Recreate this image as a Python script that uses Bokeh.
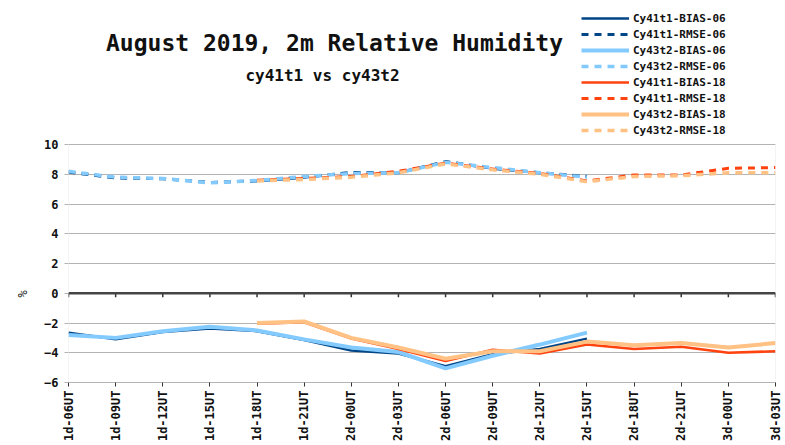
import math
from bokeh.plotting import figure
from bokeh.models import (Range1d, FixedTicker, Span, Label, Legend, LegendItem, Title,
                          BoxAnnotation)
from bokeh.embed import file_html
from bokeh.resources import INLINE

categories = ["1d-06UT", "1d-09UT", "1d-12UT", "1d-15UT", "1d-18UT", "1d-21UT",
              "2d-00UT", "2d-03UT", "2d-06UT", "2d-09UT", "2d-12UT", "2d-15UT",
              "2d-18UT", "2d-21UT", "3d-00UT", "3d-03UT"]
cats_06 = categories[0:12]
cats_18 = categories[4:16]

bias41_06 = [-2.65, -3.1, -2.6, -2.37, -2.55, -3.15, -3.85, -4.05, -4.9, -4.1, -3.75, -3.05]
rmse41_06 = [8.15, 7.75, 7.7, 7.45, 7.55, 7.8, 8.12, 8.1, 8.85, 8.4, 8.1, 7.85]
bias43_06 = [-2.8, -3.0, -2.55, -2.25, -2.5, -3.1, -3.65, -3.95, -5.05, -4.2, -3.45, -2.65]
rmse43_06 = [8.2, 7.8, 7.72, 7.42, 7.58, 7.85, 8.05, 8.1, 8.8, 8.45, 8.1, 7.8]
bias41_18 = [-2.05, -1.95, -3.05, -3.75, -4.55, -3.8, -4.05, -3.45, -3.75, -3.6, -4.0, -3.9]
rmse41_18 = [7.6, 7.72, 7.85, 8.2, 8.75, 8.35, 8.05, 7.55, 7.95, 7.95, 8.4, 8.45]
bias43_18 = [-2.0, -1.9, -3.0, -3.65, -4.4, -3.9, -3.9, -3.25, -3.5, -3.35, -3.65, -3.35]
rmse43_18 = [7.55, 7.65, 7.8, 8.1, 8.7, 8.3, 8.0, 7.5, 7.85, 7.9, 8.1, 8.1]

y_ticks = [-6, -4, -2, 0, 2, 4, 6, 8, 10]
Y_MIN, Y_MAX = -6, 10

FONT = "DejaVu Sans Mono"
DARK_BLUE = "#004586"
LIGHT_BLUE = "#83caff"
ORANGE = "#ff420e"
LIGHT_ORANGE = "#ffc184"
GRID = "#b3b3b3"

# layout: plot box spans canvas y 144..382; frame is extended upward to the
# canvas top so that the header (titles, legend) lives inside the frame
BOX_TOP_PX, BOX_BOTTOM_PX = 144, 382
ppu = (BOX_BOTTOM_PX - BOX_TOP_PX) / (Y_MAX - Y_MIN)
y_top = Y_MAX + BOX_TOP_PX / ppu

p = figure(width=785, height=445, output_backend="svg", toolbar_location=None,
           x_range=Range1d(0, len(categories) - 1), y_range=Range1d(Y_MIN, y_top),
           min_border_left=68, min_border_right=10, min_border_top=0,
           min_border_bottom=445 - BOX_BOTTOM_PX)
p.background_fill_color = "white"
p.border_fill_color = "white"
p.outline_line_color = None

p.xaxis.ticker = FixedTicker(ticks=list(range(len(categories))))
p.xaxis.major_label_overrides = {i: c for i, c in enumerate(categories)}
p.xaxis.major_label_orientation = math.pi / 2
p.xaxis.major_label_text_font = FONT
p.xaxis.major_label_text_font_style = "bold"
p.xaxis.major_label_text_font_size = "12px"
p.xaxis.major_label_text_color = "#111111"
p.xaxis.major_label_standoff = 4
p.xaxis.axis_line_color = GRID
p.xaxis.major_tick_line_color = "#333333"
p.xaxis.major_tick_out = 4
p.xaxis.major_tick_in = 0
p.xaxis.minor_tick_line_color = None

p.yaxis.ticker = FixedTicker(ticks=y_ticks)
p.yaxis.major_label_text_font = FONT
p.yaxis.major_label_text_font_style = "bold"
p.yaxis.major_label_text_font_size = "12px"
p.yaxis.major_label_text_color = "#111111"
p.yaxis.major_label_standoff = 6
p.yaxis.axis_line_color = None
p.yaxis.major_tick_line_color = GRID
p.yaxis.major_tick_out = 4
p.yaxis.major_tick_in = 0
p.yaxis.minor_tick_line_color = None

p.xgrid.grid_line_color = None
p.ygrid.grid_line_color = GRID
p.ygrid.grid_line_width = 1

# plot-area border
p.add_layout(BoxAnnotation(left=0, right=len(categories) - 1, bottom=Y_MIN, top=Y_MAX,
                           fill_alpha=0, line_color=GRID, line_width=1))

# zero line with ticks
p.add_layout(Span(location=0, dimension="width", line_color="#444444", line_width=2.5))
xs_all = list(range(len(categories)))
p.segment(x0=xs_all, y0=[0] * len(xs_all), x1=xs_all, y1=[-0.27] * len(xs_all),
          line_color="#333333", line_width=1.5)

x06 = [categories.index(c) for c in cats_06]
x18 = [categories.index(c) for c in cats_18]

series = [
    ("Cy41t1-BIAS-06", x06, bias41_06, DARK_BLUE, "solid", 2.5),
    ("Cy41t1-RMSE-06", x06, rmse41_06, DARK_BLUE, "7 6", 3),
    ("Cy43t2-BIAS-06", x06, bias43_06, LIGHT_BLUE, "solid", 4),
    ("Cy43t2-RMSE-06", x06, rmse43_06, LIGHT_BLUE, "7 6", 3.5),
    ("Cy41t1-BIAS-18", x18, bias41_18, ORANGE, "solid", 2.5),
    ("Cy41t1-RMSE-18", x18, rmse41_18, ORANGE, "7 6", 3),
    ("Cy43t2-BIAS-18", x18, bias43_18, LIGHT_ORANGE, "solid", 4),
    ("Cy43t2-RMSE-18", x18, rmse43_18, LIGHT_ORANGE, "7 6", 3.5),
]

items = []
for name, xs, ys, color, dash, w in series:
    r = p.line(xs, ys, line_color=color, line_dash=dash, line_width=w)
    items.append(LegendItem(label=name, renderers=[r]))

legend = Legend(items=items, location=(513, 244), orientation="vertical",
                glyph_width=48, glyph_height=16, label_height=16, spacing=0,
                padding=0, margin=0, label_standoff=4,
                label_text_font=FONT, label_text_font_size="11px",
                label_text_font_style="bold", label_text_color="#111111",
                border_line_color=None, background_fill_alpha=0)
p.add_layout(legend)

p.add_layout(Label(x=266, y=340, x_units="screen", y_units="screen",
                   text="August 2019, 2m Relative Humidity", text_font=FONT,
                   text_font_size="23px", text_font_style="bold",
                   text_align="center", text_baseline="middle", text_color="#111111"))
p.add_layout(Label(x=254, y=307, x_units="screen", y_units="screen",
                   text="cy41t1 vs cy43t2", text_font=FONT,
                   text_font_size="16px", text_font_style="bold",
                   text_align="center", text_baseline="middle", text_color="#111111"))

p.add_layout(Title(text="%", text_font=FONT, text_font_size="12px",
                   text_font_style="normal", align="left", offset=85,
                   standoff=23, text_color="#111111"), "left")

open("out.html", "w").write(file_html(p, INLINE))
